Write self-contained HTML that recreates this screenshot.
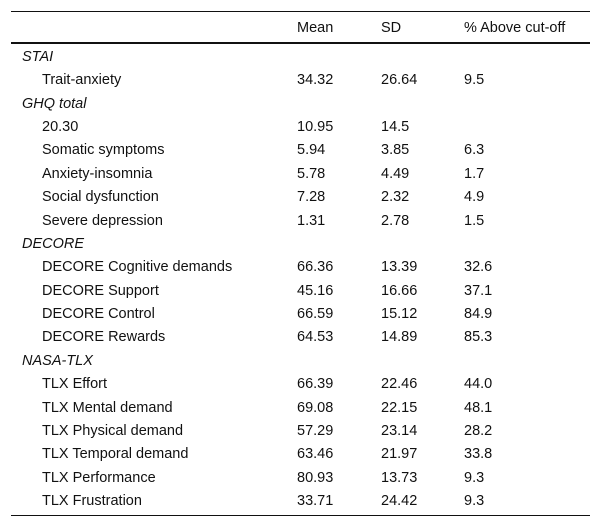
<!DOCTYPE html>
<html><head><meta charset="utf-8"><style>
body{margin:0;width:601px;height:528px;background:#fff;font-family:"Liberation Sans",sans-serif;font-size:14.5px;color:#111;position:relative;overflow:hidden}
.l{position:absolute;left:11px;width:579px;background:#111}
.t{position:absolute;white-space:nowrap;line-height:18px}
.i{font-style:italic}
</style></head><body>
<div class="l" style="top:11px;height:1px"></div>
<div class="l" style="top:42px;height:2px"></div>
<div class="l" style="top:515px;height:1px"></div>
<div class="t" style="left:297px;top:19px">Mean</div>
<div class="t" style="left:381px;top:19px">SD</div>
<div class="t" style="left:464px;top:19px">% Above cut-off</div>
<div id="rows"></div>
<script>
const labels=["STAI","Trait-anxiety","GHQ total","20.30","Somatic symptoms","Anxiety-insomnia","Social dysfunction","Severe depression","DECORE","DECORE Cognitive demands","DECORE Support","DECORE Control","DECORE Rewards","NASA-TLX","TLX Effort","TLX Mental demand","TLX Physical demand","TLX Temporal demand","TLX Performance","TLX Frustration"];
const means=["","34.32","","10.95","5.94","5.78","7.28","1.31","","66.36","45.16","66.59","64.53","","66.39","69.08","57.29","63.46","80.93","33.71"];
const sds=["","26.64","","14.5","3.85","4.49","2.32","2.78","","13.39","16.66","15.12","14.89","","22.46","22.15","23.14","21.97","13.73","24.42"];
const above=["","9.5","","","6.3","1.7","4.9","1.5","","32.6","37.1","84.9","85.3","","44.0","48.1","28.2","33.8","9.3","9.3"];
const groups=[0,2,8,13];
const c=document.getElementById('rows');
labels.forEach((lab,i)=>{
  const y=57+i*23.37-9;
  const g=groups.includes(i);
  const cells=[[lab,g?22:42,g?'group-label':'row-label'],[means[i],297,'mean-cell'],[sds[i],381,'sd-cell'],[above[i],464,'above-cutoff-cell']];
  cells.forEach(([txt,x,n])=>{
    if(!txt)return;
    const d=document.createElement('div');
    d.className='t'+(g&&x<100?' i':'');
    d.style.left=x+'px';d.style.top=y+'px';d.textContent=txt;
    
    
    c.appendChild(d);
  });
});
</script>
</body></html>
